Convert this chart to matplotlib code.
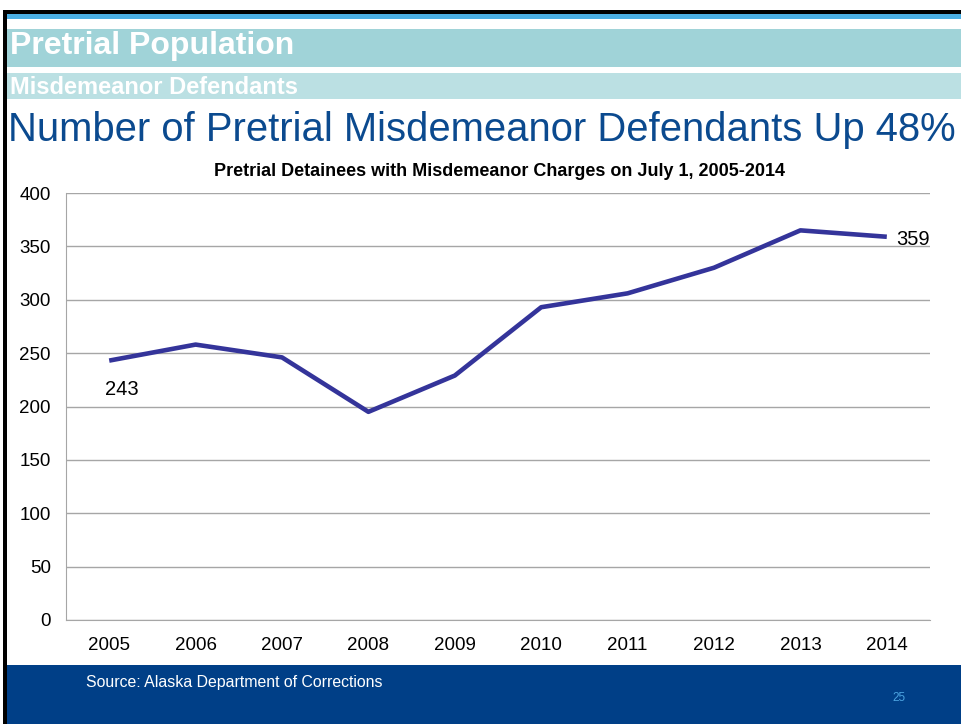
import matplotlib
matplotlib.use("Agg")
import matplotlib.pyplot as plt
from matplotlib.patches import Rectangle

plt.rcParams['font.family'] = ['Liberation Sans', 'DejaVu Sans']

W, H = 961, 724

years = ['2005', '2006', '2007', '2008', '2009', '2010', '2011', '2012', '2013', '2014']
detainees = [243, 258, 246, 195, 229, 293, 306, 330, 365, 359]
y_ticks = [0, 50, 100, 150, 200, 250, 300, 350, 400]


def box(fig, x, y, w, h, color):
    # pixel box, origin top-left
    fig.add_artist(Rectangle((x / W, 1 - (y + h) / H), w / W, h / H,
                             transform=fig.transFigure, facecolor=color,
                             edgecolor='none', zorder=0))


def label(fig, x, y, s, **kw):
    fig.text(x / W, 1 - y / H, s, **kw)


fig = plt.figure(figsize=(W / 100, H / 100), dpi=100)

# slide decoration
box(fig, 3, 10, 958, 4, 'black')
box(fig, 3, 10, 4, 714, 'black')
box(fig, 7, 14, 954, 5, '#4BAFE4')
box(fig, 7, 29, 954, 38, '#A0D3D8')
box(fig, 7, 73, 954, 26, '#BBE0E3')
box(fig, 7, 665, 954, 59, '#003F87')

label(fig, 10, 46, 'Pretrial Population', color='white', fontsize=23,
      fontweight='bold', va='center')
label(fig, 10, 87, 'Misdemeanor Defendants', color='white', fontsize=17,
      fontweight='bold', va='center')
label(fig, 8, 130, 'Number of Pretrial Misdemeanor Defendants Up 48%',
      color='#0B4A8F', fontsize=28.8, va='center')
label(fig, 500, 172, 'Pretrial Detainees with Misdemeanor Charges on July 1, 2005-2014',
      color='black', fontsize=13, fontweight='bold', ha='center', va='center')
label(fig, 86, 683, 'Source: Alaska Department of Corrections', color='white',
      fontsize=11.4, va='center')
label(fig, 899, 698, '25', color='#4BA3E0', fontsize=8.5, ha='center', va='center')

# chart
ax = fig.add_axes([66 / W, (H - 620) / H, 864 / W, 427 / H])
x = range(len(years))
ax.plot(x, detainees, color='#34349A', linewidth=3.3, solid_capstyle='butt')
ax.set_xlim(-0.5, len(years) - 0.5)
ax.set_ylim(0, 400)
ax.set_xticks(list(x))
ax.set_xticklabels(years)
ax.set_yticks(y_ticks)
ax.tick_params(axis='both', length=0, labelsize=13.5)
ax.tick_params(axis='x', pad=12)
ax.tick_params(axis='y', pad=11)
ax.yaxis.grid(True, color='#A6A6A6', linewidth=1)
ax.set_axisbelow(True)
for side in ['top', 'right']:
    ax.spines[side].set_visible(False)
for side in ['left', 'bottom']:
    ax.spines[side].set_color('#A6A6A6')

ax.annotate(str(detainees[0]), (0, detainees[0]), xytext=(-3, -14),
            textcoords='offset points', ha='left', va='top', fontsize=14.5)
ax.annotate(str(detainees[-1]), (len(years) - 1, detainees[-1]), xytext=(7, -2),
            textcoords='offset points', ha='left', va='center', fontsize=14.5)

fig.savefig('out.png', dpi=100)
